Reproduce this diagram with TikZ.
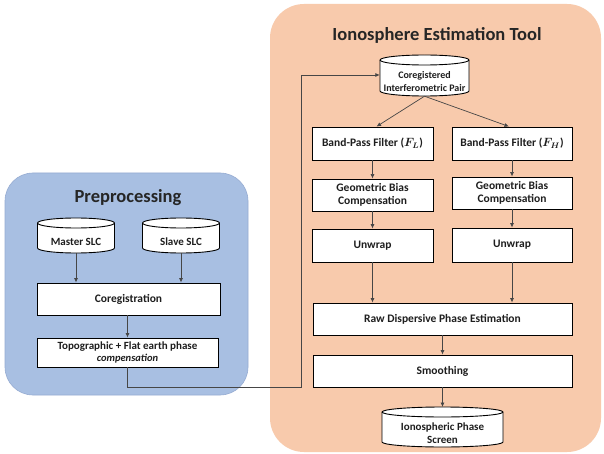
\documentclass[tikz,border=0pt]{standalone}
\usepackage{amsmath}
\usepackage{fontspec}
\setmainfont{Carlito}
\usetikzlibrary{arrows.meta}
\definecolor{blueF}{RGB}{168,191,226}
\definecolor{blueD}{RGB}{150,172,210}
\definecolor{orangeF}{RGB}{248,202,172}
\definecolor{txt}{RGB}{30,30,30}
\definecolor{ln}{RGB}{70,70,70}
\newcommand\cylshape[4]{%
 \begin{scope}[shift={(#1,#2)}]
  \pgfmathsetmacro\hw{#3/2}\pgfmathsetmacro\hh{#4/2}
  \filldraw[fill=white,draw=black,line width=0.9] (-\hw,\hh-5) -- (-\hw,-\hh+5)
    arc[start angle=180,end angle=360,x radius=\hw,y radius=5] -- (\hw,\hh-5)
    arc[start angle=0,end angle=180,x radius=\hw,y radius=5] -- cycle;
  \draw[line width=0.9] (-\hw,\hh-5) arc[start angle=180,end angle=360,x radius=\hw,y radius=5];
 \end{scope}}
\begin{document}
\begin{tikzpicture}[x=1pt,y=1pt,
  box/.style={draw=black,fill=white,line width=0.9,inner sep=0,align=center,
    text=txt,font=\bfseries\fontsize{11.5}{13.5}\selectfont},
  lbl/.style={inner sep=0,align=center,text=txt,font=\bfseries\fontsize{11}{13}\selectfont},
  ttl/.style={inner sep=0,text=black!85,font=\bfseries\fontsize{18.5}{22}\selectfont},
  arr/.style={draw=ln,line width=0.7,-{Latex[length=4.5pt,width=4pt]}}]
\useasboundingbox (0,0) rectangle (604,-454);
\fill[white] (0,0) rectangle (604,-454);
% group backgrounds
\filldraw[fill=blueF,draw=blueD,line width=0.6,rounded corners=28] (5,-173) rectangle (248,-395);
\fill[orangeF,rounded corners=34] (270,-4) rectangle (601,-452);
\node[ttl] (t1) at (128,-198) {Preprocessing};
\node[ttl] (t2) at (437,-35) {Ionosphere Estimation Tool};
% preprocessing
\cylshape{76}{-235.5}{77}{35}
\node[lbl,minimum width=77,minimum height=23] (master) at (76,-241.5) {Master SLC};
\cylshape{181}{-235.5}{77}{35}
\node[lbl,minimum width=77,minimum height=23] (slave) at (181,-241.5) {Slave SLC};
\node[box,minimum width=183,minimum height=32] (coreg) at (128.5,-299) {Coregistration};
\node[box,minimum width=181,minimum height=29] (topo) at (127.5,-352.5)
  {\fontsize{11}{13}\selectfont Topographic + Flat earth phase\\[-2pt]{\itshape\fontsize{10.5}{11}\selectfont compensation}};
\draw[arr] (master.south) -- (master.south |- coreg.north);
\draw[arr] (slave.south) -- (slave.south |- coreg.north);
\draw[arr] (coreg.south -| topo.north) -- (topo.north);
% ionosphere tool
\cylshape{424.5}{-75.5}{89}{41}
\node[lbl,minimum width=89,minimum height=29] (pair) at (424.5,-81.5) {\fontsize{10}{12.5}\selectfont Coregistered\\\fontsize{10}{12.5}\selectfont Interferometric Pair};
\coordinate (c1) at (127.5,-387);
\coordinate (c2) at (301,-387);
\coordinate (c3) at (301,-75);
\draw[arr] (topo.south) -- (c1) -- (c2) -- (c3) -- (c3 -| pair.west);
\node[box,minimum width=121,minimum height=33] (bpfL) at (372.5,-143.5) {Band-Pass Filter ({\boldmath$F_L$})};
\node[box,minimum width=120,minimum height=33] (bpfR) at (512,-143.5) {Band-Pass Filter ({\boldmath$F_H$})};
\node[box,minimum width=121,minimum height=32] (geoL) at (372.5,-195) {Geometric Bias\\Compensation};
\node[box,minimum width=120,minimum height=32] (geoR) at (512,-193) {Geometric Bias\\Compensation};
\node[box,minimum width=121,minimum height=33] (unwL) at (372.5,-245.5) {Unwrap};
\node[box,minimum width=120,minimum height=34] (unwR) at (512,-245) {Unwrap};
\node[box,minimum width=259,minimum height=32] (raw) at (442.5,-319) {Raw Dispersive Phase Estimation};
\node[box,minimum width=259,minimum height=32] (smooth) at (442.5,-371) {Smoothing};
\cylshape{442.5}{-427}{121}{40}
\node[lbl,minimum width=121,minimum height=28] (iono) at (442.5,-433) {Ionospheric Phase\\Screen};
\draw[arr] (pair.south) -- ([xshift=4]bpfL.north);
\draw[arr] (pair.south) -- ([xshift=-3]bpfR.north);
\draw[arr] (bpfL) -- (geoL);
\draw[arr] (bpfR) -- (geoR);
\draw[arr] (geoL) -- (unwL);
\draw[arr] (geoR) -- (unwR);
\draw[arr] (unwL.south) -- (unwL.south |- raw.north);
\draw[arr] (unwR.south) -- (unwR.south |- raw.north);
\draw[arr] (raw) -- (smooth);
\draw[arr] (smooth.south) -- (smooth.south |- 0,-407);
\end{tikzpicture}
\end{document}
